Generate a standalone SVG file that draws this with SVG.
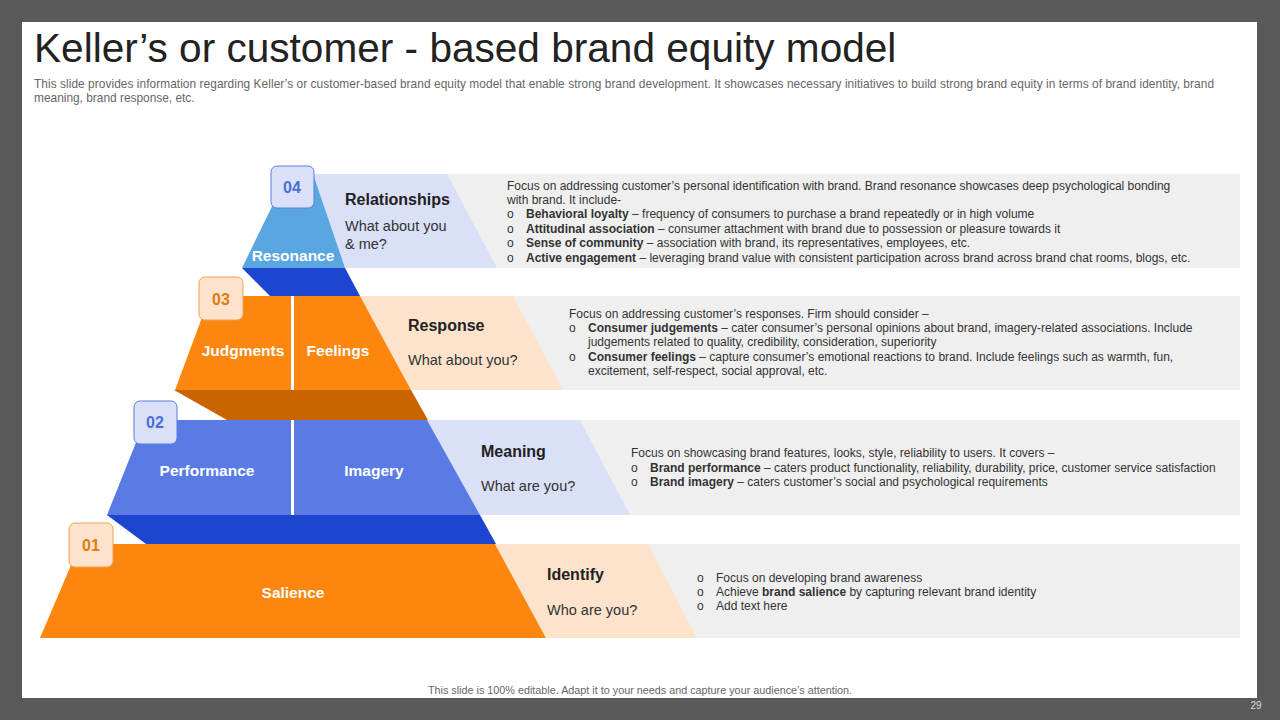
<svg xmlns="http://www.w3.org/2000/svg" width="1280" height="720" viewBox="0 0 1280 720">
<style>
text{font-family:"Liberation Sans",Arial,sans-serif}
.w{fill:#fff;font-weight:bold;font-size:15.5px}
.h{fill:#222;font-weight:bold;font-size:16px}
.q{fill:#333;font-size:14.5px}
.s{fill:#333;font-size:12px}
.b{font-weight:bold}
.badge{stroke-width:1}
.gray{fill:#efefef}
</style>
<rect width="1280" height="720" fill="#595959"/>
<rect x="22" y="22" width="1235" height="676" fill="#fff"/>
<text x="34" y="62" font-size="40.6" fill="#222">Keller’s or customer - based brand equity model</text>
<text x="34" y="88" font-size="11.9" fill="#666" textLength="1180">This slide provides information regarding Keller’s or customer-based brand equity model that enable strong brand development. It showcases necessary initiatives to build strong brand equity in terms of brand identity,  brand</text>
<text x="34" y="102" font-size="11.9" fill="#666">meaning, brand response, etc.</text>

<g id="connectors">
<polygon points="242,268 345,268 360,296 270,296" fill="#1d45d0"/>
<polygon points="174,390 411,390 428,420 227,420" fill="#c96400"/>
<polygon points="107,515 480,515 496,544 146,544" fill="#1d45d0"/>
</g>

<g id="level4">
<rect class="gray" x="447" y="174" width="793" height="94"/>
<polygon points="300,174 447,174 497,268 345,268" fill="#dae0f7"/>
<polygon points="280,190 300,174 313,174 345,268 242,268" fill="#5aa6e0"/>
<text class="w" x="293" y="261" text-anchor="middle">Resonance</text>
<text class="h" x="345" y="205">Relationships</text>
<text class="q" x="345" y="231">What about you</text>
<text class="q" x="345" y="249">&amp; me?</text>
<g class="s">
<text x="507" y="190">Focus on addressing customer’s personal identification with brand. Brand resonance showcases deep psychological bonding</text>
<text x="507" y="204">with brand.  It include-</text>
<text x="507" y="218">o</text><text x="526" y="218"><tspan class="b">Behavioral loyalty</tspan>  – frequency of consumers to purchase a brand repeatedly or in high volume</text>
<text x="507" y="233">o</text><text x="526" y="233"><tspan class="b">Attitudinal  association</tspan> – consumer attachment with brand due to possession or pleasure towards it</text>
<text x="507" y="247">o</text><text x="526" y="247"><tspan class="b">Sense of community</tspan>  – association with brand, its representatives, employees, etc.</text>
<text x="507" y="262">o</text><text x="526" y="262"><tspan class="b">Active engagement</tspan> – leveraging brand value with consistent participation across brand across brand chat rooms, blogs, etc.</text>
</g>
<rect class="badge" x="271" y="166" width="43" height="42" rx="6" fill="#dae0f7" stroke="#5b7fe0"/>
<text x="292" y="193" text-anchor="middle" font-size="16" font-weight="bold" fill="#4a6fd8">04</text>
</g>

<g id="level3">
<rect class="gray" x="513" y="296" width="727" height="94"/>
<polygon points="360,296 513,296 563,390 411,390" fill="#fde3cc"/>
<polygon points="210,296 360,296 411,390 175,390" fill="#fd860e"/>
<rect x="291" y="296" width="3" height="94" fill="#fff"/>
<text class="w" x="243" y="356" text-anchor="middle">Judgments</text>
<text class="w" x="338" y="356" text-anchor="middle">Feelings</text>
<text class="h" x="408" y="331">Response</text>
<text class="q" x="408" y="365">What about you?</text>
<g class="s">
<text x="569" y="318">Focus on addressing customer’s responses. Firm should consider –</text>
<text x="569" y="332">o</text><text x="588" y="332"><tspan class="b">Consumer judgements</tspan> – cater consumer’s personal opinions about brand, imagery-related associations. Include</text>
<text x="588" y="346">judgements related to quality, credibility, consideration, superiority</text>
<text x="569" y="361">o</text><text x="588" y="361"><tspan class="b">Consumer feelings</tspan> – capture consumer’s emotional reactions to brand. Include feelings such as warmth, fun,</text>
<text x="588" y="375">excitement, self-respect, social approval, etc.</text>
</g>
<rect class="badge" x="199" y="277" width="44" height="43" rx="6" fill="#fde3cc" stroke="#f0a050"/>
<text x="221" y="305" text-anchor="middle" font-size="16" font-weight="bold" fill="#e07b10">03</text>
</g>

<g id="level2">
<rect class="gray" x="580" y="420" width="660" height="95"/>
<polygon points="427,420 580,420 630,515 480,515" fill="#dae0f7"/>
<polygon points="145,420 427,420 480,515 107,515" fill="#5a7be4"/>
<rect x="291" y="420" width="3" height="95" fill="#fff"/>
<text class="w" x="207" y="476" text-anchor="middle">Performance</text>
<text class="w" x="374" y="476" text-anchor="middle">Imagery</text>
<text class="h" x="481" y="457">Meaning</text>
<text class="q" x="481" y="491">What are you?</text>
<g class="s">
<text x="631" y="457">Focus on showcasing brand features, looks, style, reliability to users. It covers –</text>
<text x="631" y="472">o</text><text x="650" y="472"><tspan class="b">Brand performance</tspan> – caters product functionality, reliability, durability, price, customer service satisfaction</text>
<text x="631" y="486">o</text><text x="650" y="486"><tspan class="b">Brand imagery</tspan> – caters customer’s social and psychological requirements</text>
</g>
<rect class="badge" x="134" y="401" width="43" height="43" rx="6" fill="#dae0f7" stroke="#5b7fe0"/>
<text x="155" y="428" text-anchor="middle" font-size="16" font-weight="bold" fill="#4a6fd8">02</text>
</g>

<g id="level1">
<rect class="gray" x="648" y="544" width="592" height="94"/>
<polygon points="495,544 648,544 697,638 546,638" fill="#fde3cc"/>
<polygon points="80,544 495,544 546,638 40,638" fill="#fd860e"/>
<text class="w" x="293" y="598" text-anchor="middle">Salience</text>
<text class="h" x="547" y="580">Identify</text>
<text class="q" x="547" y="615">Who are you?</text>
<g class="s">
<text x="697" y="582">o</text><text x="716" y="582">Focus on developing brand awareness</text>
<text x="697" y="596">o</text><text x="716" y="596">Achieve <tspan class="b">brand salience</tspan> by capturing relevant brand identity</text>
<text x="697" y="610">o</text><text x="716" y="610">Add text here</text>
</g>
<rect class="badge" x="69" y="523" width="44" height="44" rx="6" fill="#fde3cc" stroke="#f0a050"/>
<text x="91" y="551" text-anchor="middle" font-size="16" font-weight="bold" fill="#e07b10">01</text>
</g>

<text x="640" y="694" text-anchor="middle" font-size="10.8" fill="#666">This slide is 100% editable.  Adapt it to your needs and capture your audience’s attention.</text>
<text x="1256" y="709" text-anchor="middle" font-size="10" fill="#ddd">29</text>
</svg>
